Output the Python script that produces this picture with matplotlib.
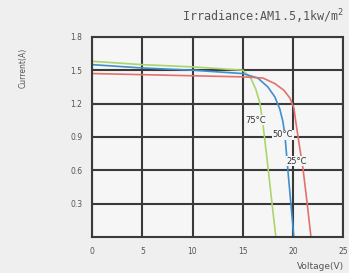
import numpy as np
import matplotlib.pyplot as plt

# I-V curves
v_75 = [0, 5, 10, 15, 15.8, 16.3, 16.7, 17.0, 17.4, 17.9, 18.3]
i_75 = [1.58, 1.55, 1.53, 1.50, 1.43, 1.33, 1.21, 1.03, 0.72, 0.32, 0.0]

v_50 = [0, 5, 10, 15, 16.5, 17.5, 18.2, 18.7, 19.0, 19.2, 19.6, 20.1]
i_50 = [1.55, 1.52, 1.50, 1.47, 1.43, 1.35, 1.26, 1.15, 1.04, 0.92, 0.50, 0.0]

v_25 = [0, 5, 10, 15, 17.0, 18.2, 19.1, 19.7, 20.1, 20.3, 20.6, 21.0, 21.4, 21.8]
i_25 = [1.47, 1.46, 1.45, 1.44, 1.43, 1.38, 1.32, 1.25, 1.16, 1.03, 0.85, 0.62, 0.32, 0.0]

x_ticks = [0, 5, 10, 15, 20, 25]
y_ticks = [0.3, 0.6, 0.9, 1.2, 1.5, 1.8]

bg = '#efefef'
fig = plt.figure(figsize=(3.49, 2.73), dpi=100, facecolor=bg)
ax = fig.add_axes([0.264, 0.132, 0.719, 0.733], facecolor='#f6f6f6')

ax.plot(v_75, i_75, color='#a9d66c', lw=1.2)
ax.plot(v_50, i_50, color='#3e8fcc', lw=1.2)
ax.plot(v_25, i_25, color='#e2716c', lw=1.2)

box = dict(facecolor='#f6f6f6', edgecolor='none', pad=0.3)
ax.text(16.3, 1.05, '75°C', fontsize=6, color='#333333', ha='center', va='center', bbox=box)
ax.text(19.0, 0.92, '50°C', fontsize=6, color='#333333', ha='center', va='center', bbox=box)
ax.text(20.4, 0.68, '25°C', fontsize=6, color='#333333', ha='center', va='center', bbox=box)

ax.set_xlim(0, 25)
ax.set_ylim(0, 1.8)
ax.set_xticks(x_ticks)
ax.set_yticks(y_ticks)
ax.set_xticklabels([str(t) for t in x_ticks])
ax.set_yticklabels([f'{t:.1f}' for t in y_ticks])
ax.tick_params(length=0, labelsize=5.5, labelcolor='#555555', pad=7)
ax.grid(True, color='#3a3a3a', lw=1.5)
ax.set_axisbelow(True)
for s in ax.spines.values():
    s.set_color('#3a3a3a')
    s.set_linewidth(1.5)

fig.text(0.985, 0.937, 'Irradiance:AM1.5,1kw/m$^{2}$', fontsize=8.5, family='DejaVu Sans Mono',
         color='#555555', ha='right', va='center')
fig.text(0.066, 0.75, 'Current(A)', fontsize=5.5, color='#555555', rotation=90, ha='center', va='center')
fig.text(0.985, 0.022, 'Voltage(V)', fontsize=6.5, color='#555555', ha='right', va='center')

fig.savefig('out.png', dpi=100, facecolor=bg)
